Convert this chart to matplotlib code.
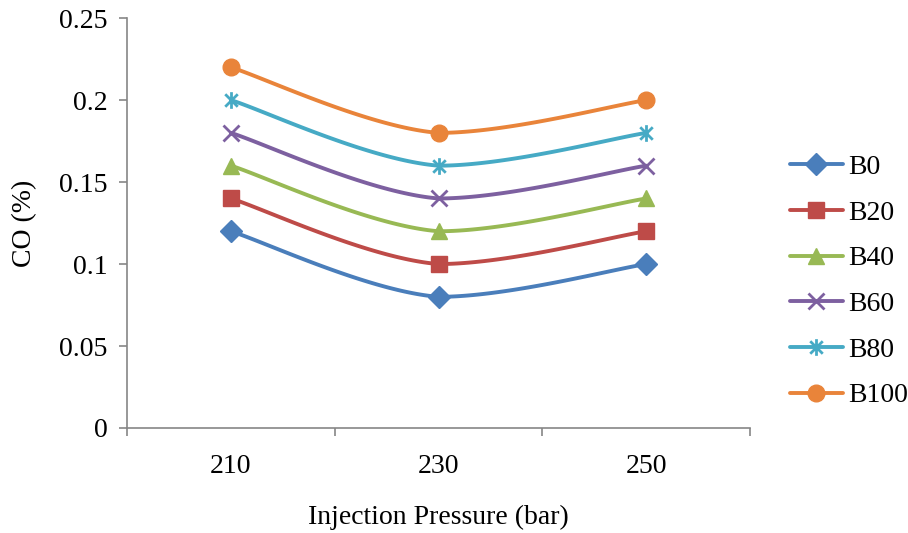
import numpy as np
import matplotlib
matplotlib.use("Agg")
import matplotlib.pyplot as plt
from matplotlib.lines import Line2D
from matplotlib.path import Path

# Data
pressure = ["210", "230", "250"]
series_names = ["B0", "B20", "B40", "B60", "B80", "B100"]
b0 = [0.12, 0.08, 0.10]
b20 = [0.14, 0.10, 0.12]
b40 = [0.16, 0.12, 0.14]
b60 = [0.18, 0.14, 0.16]
b80 = [0.20, 0.16, 0.18]
b100 = [0.22, 0.18, 0.20]

colors = ["#4A7EBB", "#BE4B48", "#98B954", "#7D60A0", "#46AAC5", "#E9843A"]

star = Path([(0, -1), (0, 1), (-0.75, -0.75), (0.75, 0.75), (-0.75, 0.75), (0.75, -0.75)],
            [Path.MOVETO, Path.LINETO, Path.MOVETO, Path.LINETO, Path.MOVETO, Path.LINETO])
markers = ["D", "s", "^", "x", star, "o"]
msizes = [11, 11, 12, 11, 12, 12]

plt.rcParams['font.family'] = ['Liberation Serif', 'DejaVu Serif']
FS = 20


def smooth(y, n=60):
    """Excel-like smoothed line (Catmull-Rom bezier, no overshoot)."""
    x = np.arange(len(y), dtype=float)
    y = np.asarray(y, dtype=float)
    xs, ys = [], []
    for i in range(len(y) - 1):
        p_prev = max(i - 1, 0)
        p_next = min(i + 2, len(y) - 1)
        c1x = x[i] + (x[i + 1] - x[p_prev]) / 6
        c1y = y[i] + (y[i + 1] - y[p_prev]) / 6
        c2x = x[i + 1] - (x[p_next] - x[i]) / 6
        c2y = y[i + 1] - (y[p_next] - y[i]) / 6
        lo, hi = min(y[i], y[i + 1]), max(y[i], y[i + 1])
        c1y = min(max(c1y, lo), hi)
        c2y = min(max(c2y, lo), hi)
        t = np.linspace(0, 1, n)
        bx = (1 - t) ** 3 * x[i] + 3 * (1 - t) ** 2 * t * c1x + 3 * (1 - t) * t ** 2 * c2x + t ** 3 * x[i + 1]
        by = (1 - t) ** 3 * y[i] + 3 * (1 - t) ** 2 * t * c1y + 3 * (1 - t) * t ** 2 * c2y + t ** 3 * y[i + 1]
        xs.extend(bx)
        ys.extend(by)
    return xs, ys


fig = plt.figure(figsize=(9.08, 5.33), dpi=100)
ax = fig.add_axes([0.140, 0.197, 0.686, 0.769])

handles = []
for name, vals, c, m, ms in zip(series_names, [b0, b20, b40, b60, b80, b100], colors, markers, msizes):
    sx, sy = smooth(vals)
    ax.plot(sx, sy, color=c, lw=2.8, solid_capstyle='round', zorder=2)
    mew = 2.0 if (m == "x" or m is star) else 1
    ax.plot(range(len(vals)), vals, ls='none', marker=m, ms=ms, color=c, mec=c, mew=mew, zorder=3)
    handles.append(Line2D([], [], color=c, lw=2.8, marker=m, ms=ms, mec=c, mew=mew,
                          solid_capstyle='round', label=name))

ax.set_xlim(-0.5, 2.5)
ax.set_ylim(0, 0.25)
ax.set_yticks([0, 0.05, 0.1, 0.15, 0.2, 0.25])
ax.set_yticklabels(["0", "0.05", "0.1", "0.15", "0.2", "0.25"])
ax.set_xticks([0, 1, 2])
ax.set_xticklabels(pressure)
ax.set_xticks([-0.5, 0.5, 1.5, 2.5], minor=True)
ax.tick_params(axis='x', which='major', length=0, pad=19, labelsize=FS)
ax.tick_params(axis='x', which='minor', length=6, color='#868686', width=1.2)
ax.tick_params(axis='y', length=6, color='#868686', width=1.2, labelsize=FS, pad=8)

for s in ["top", "right"]:
    ax.spines[s].set_visible(False)
for s in ["left", "bottom"]:
    ax.spines[s].set_color('#868686')
    ax.spines[s].set_linewidth(1.2)

ax.set_xlabel("Injection Pressure (bar)", fontsize=FS, labelpad=18)
ax.set_ylabel("CO (%)", fontsize=FS, labelpad=16)

fig.legend(handles=handles, loc='center left', bbox_to_anchor=(0.870, 0.472), frameon=False,
           fontsize=FS, handlelength=1.9, labelspacing=0.73, handletextpad=0.18,
           borderpad=0, borderaxespad=0)

fig.savefig("out.png", dpi=100)
